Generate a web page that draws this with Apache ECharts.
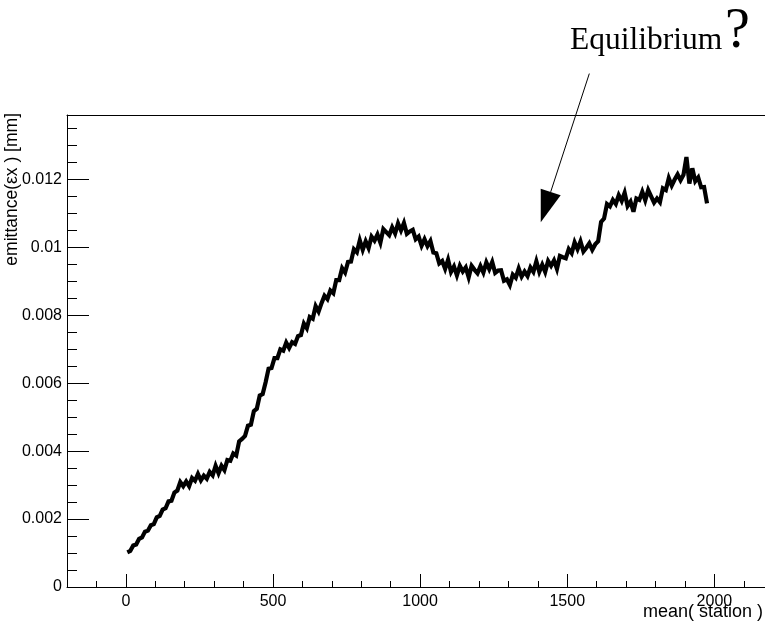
<!DOCTYPE html>
<html>
<head>
<meta charset="utf-8">
<title>emittance vs station</title>
<script src="https://cdn.jsdelivr.net/npm/echarts@6/dist/echarts.min.js"></script>
<style>
  html, body { margin: 0; padding: 0; background: #fff; }
  #chart { width: 765px; height: 628px; }
</style>
</head>
<body>
<div id="chart"></div>
<script>
// Sampling of the beam line: one reading every 10 stations starting at station 5
const stationStart = 5;
const stationStep = 10;

// Emittance (mm) at each sampled station
const emittance = [
  0.00102, 0.00106, 0.00122, 0.00125, 0.00142, 0.00146, 0.00163, 0.00166, 0.00182, 0.00185,
  0.00205, 0.00209, 0.00228, 0.00232, 0.00252, 0.00254, 0.00278, 0.00284, 0.00309, 0.00297,
  0.00311, 0.00297, 0.00321, 0.00313, 0.00333, 0.00314, 0.00328, 0.00319, 0.00339, 0.00329,
  0.00357, 0.00335, 0.00357, 0.00344, 0.00374, 0.00372, 0.00393, 0.00387, 0.00429, 0.00436,
  0.00445, 0.00475, 0.00478, 0.00518, 0.00525, 0.00564, 0.00568, 0.00603, 0.00643, 0.00645,
  0.00674, 0.00674, 0.00700, 0.00696, 0.00720, 0.00704, 0.00721, 0.00716, 0.00739, 0.00742,
  0.00776, 0.00762, 0.00795, 0.00790, 0.00827, 0.00811, 0.00836, 0.00858, 0.00848, 0.00873,
  0.00865, 0.00904, 0.00904, 0.00939, 0.00926, 0.00957, 0.00958, 0.00995, 0.00986, 0.01021,
  0.00993, 0.01018, 0.00998, 0.01032, 0.01020, 0.01038, 0.01014, 0.01054, 0.01045, 0.01036,
  0.01059, 0.01041, 0.01071, 0.01050, 0.01072, 0.01040, 0.01047, 0.01052, 0.01024, 0.01032,
  0.01005, 0.01024, 0.01004, 0.01019, 0.00985, 0.00983, 0.00953, 0.00960, 0.00937, 0.00964,
  0.00928, 0.00944, 0.00918, 0.00946, 0.00929, 0.00941, 0.00912, 0.00946, 0.00934, 0.00924,
  0.00945, 0.00926, 0.00956, 0.00936, 0.00957, 0.00925, 0.00932, 0.00933, 0.00902, 0.00906,
  0.00889, 0.00920, 0.00911, 0.00938, 0.00914, 0.00929, 0.00916, 0.00941, 0.00928, 0.00959,
  0.00928, 0.00949, 0.00928, 0.00960, 0.00946, 0.00962, 0.00937, 0.00975, 0.00971, 0.00968,
  0.00995, 0.00983, 0.01015, 0.00995, 0.01018, 0.00988, 0.00999, 0.01012, 0.00993, 0.01009,
  0.01018, 0.01075, 0.01085, 0.01128, 0.01121, 0.01140, 0.01128, 0.01154, 0.01137, 0.01161,
  0.01122, 0.01135, 0.01105, 0.01144, 0.01140, 0.01164, 0.01139, 0.01169, 0.01150, 0.01132,
  0.01144, 0.01133, 0.01174, 0.01169, 0.01204, 0.01182, 0.01200, 0.01215, 0.01198, 0.01214,
  0.01266, 0.01188, 0.01233, 0.01195, 0.01206, 0.01177, 0.01178, 0.01130
];

// Axis ticks
const xMajorTicks = [0, 500, 1000, 1500, 2000];
const xMinorTicks = [-100, 100, 200, 300, 400, 600, 700, 800, 900, 1100, 1200, 1300, 1400,
  1600, 1700, 1800, 1900, 2100];
const yMajorTicks = [0, 0.002, 0.004, 0.006, 0.008, 0.01, 0.012];
const yMinorTicks = [0.0005, 0.001, 0.0015, 0.0025, 0.003, 0.0035, 0.0045, 0.005, 0.0055,
  0.0065, 0.007, 0.0075, 0.0085, 0.009, 0.0095, 0.0105, 0.011, 0.0115, 0.0125, 0.013, 0.0135];

// Where the annotation arrow starts and where it points, in data coordinates
const arrowTail = [1575, 0.01512];
const arrowTip = [1410, 0.01074];

// Visible axis ranges (the frame runs off the right edge of the page)
const xRange = [-200, 2172];
const yRange = [0, 0.0139];

const points = emittance.map((v, i) => [stationStart + stationStep * i, v]);

const labelFont = { color: '#000', fontFamily: 'Liberation Sans, Arial, sans-serif', fontSize: 16 };
const plainNumber = v => String(v);
const black = { color: '#000', width: 1 };

const chart = echarts.init(document.getElementById('chart'), null, { renderer: 'canvas' });

chart.setOption({
  animation: false,
  backgroundColor: '#fff',
  grid: { left: 67, top: 115, right: 0, bottom: 41, show: false },
  xAxis: [
    {
      type: 'value', min: xRange[0], max: xRange[1], position: 'bottom',
      axisLine: { show: true, onZero: false, lineStyle: black },
      axisTick: { show: true, inside: true, length: 13, customValues: xMajorTicks, lineStyle: black },
      axisLabel: Object.assign({ customValues: xMajorTicks, margin: 7, formatter: plainNumber }, labelFont),
      splitLine: { show: false }
    },
    {
      type: 'value', min: xRange[0], max: xRange[1], position: 'bottom', offset: 0,
      axisLine: { show: false, onZero: false },
      axisTick: { show: true, inside: true, length: 6, customValues: xMinorTicks, lineStyle: black },
      axisLabel: { show: false },
      splitLine: { show: false }
    },
    {
      // top edge of the frame
      type: 'value', min: xRange[0], max: xRange[1], position: 'top', offset: 0,
      axisLine: { show: true, onZero: false, lineStyle: black },
      axisTick: { show: false },
      axisLabel: { show: false },
      splitLine: { show: false }
    }
  ],
  yAxis: [
    {
      type: 'value', min: yRange[0], max: yRange[1], position: 'left',
      axisLine: { show: true, onZero: false, lineStyle: black },
      axisTick: { show: true, inside: true, length: 22, customValues: yMajorTicks, lineStyle: black },
      axisLabel: Object.assign({ customValues: yMajorTicks, margin: 5, formatter: plainNumber }, labelFont),
      splitLine: { show: false }
    },
    {
      type: 'value', min: yRange[0], max: yRange[1], position: 'left', offset: 0,
      axisLine: { show: false, onZero: false },
      axisTick: { show: true, inside: true, length: 10, customValues: yMinorTicks, lineStyle: black },
      axisLabel: { show: false },
      splitLine: { show: false }
    }
  ],
  series: [
    {
      type: 'line',
      xAxisIndex: 0, yAxisIndex: 0,
      data: points,
      showSymbol: false,
      symbol: 'none',
      sampling: null,
      lineStyle: { color: '#000', width: 4.2, join: 'miter', miterLimit: 4 },
      z: 3
    }
  ],
  graphic: [
    {
      type: 'text', x: 763, y: 612,
      style: { text: 'mean( station )', fill: '#000', align: 'right', verticalAlign: 'middle',
        font: '18px "Liberation Sans", Arial, sans-serif' }
    },
    {
      type: 'text', x: 12, y: 113, rotation: Math.PI / 2,
      style: { text: 'emittance(\u03b5x ) [mm]', fill: '#000', align: 'right', verticalAlign: 'middle',
        font: '17.5px "Liberation Sans", Arial, sans-serif' }
    },
    {
      type: 'text', x: 570, y: 41,
      style: { text: 'Equilibrium', fill: '#000', align: 'left', verticalAlign: 'middle',
        font: '31.5px "Liberation Serif", "DejaVu Serif", serif' }
    },
    {
      type: 'text', x: 725, y: 32,
      style: { text: '?', fill: '#000', align: 'left', verticalAlign: 'middle',
        font: '56px "Liberation Serif", "DejaVu Serif", serif' }
    }
  ]
});

// Annotation arrow, anchored to data coordinates
const tail = chart.convertToPixel({ gridIndex: 0 }, arrowTail);
const tip = chart.convertToPixel({ gridIndex: 0 }, arrowTip);
const dx = tip[0] - tail[0], dy = tip[1] - tail[1];
const len = Math.sqrt(dx * dx + dy * dy);
const ux = dx / len, uy = dy / len;
const headLen = 32, headHalf = 10.5;
const base = [tip[0] - ux * headLen, tip[1] - uy * headLen];

chart.setOption({
  graphic: [
    {
      type: 'line', id: 'arrowShaft', z: 10,
      shape: { x1: tail[0], y1: tail[1], x2: base[0], y2: base[1] },
      style: { stroke: '#000', lineWidth: 1 }
    },
    {
      type: 'polygon', id: 'arrowHead', z: 10,
      shape: { points: [
        [tip[0], tip[1]],
        [base[0] - uy * headHalf, base[1] + ux * headHalf],
        [base[0] + uy * headHalf, base[1] - ux * headHalf]
      ] },
      style: { fill: '#000' }
    }
  ]
});
</script>
</body>
</html>
